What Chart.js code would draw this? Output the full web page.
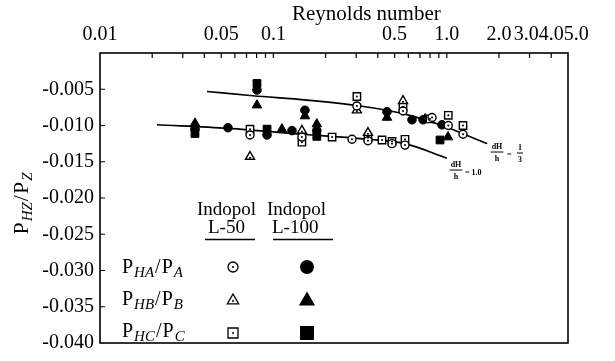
<!DOCTYPE html>
<html>
<head>
<meta charset="utf-8">
<script src="https://cdn.jsdelivr.net/npm/chart.js@4.4.1/dist/chart.umd.min.js"></script>
<style>
  html, body { margin: 0; padding: 0; background: #fff; }
</style>
</head>
<body>
<canvas id="chart" width="615" height="361"></canvas>
<script>
// === DATEN ===
// Reynolds-Zahl (log) gegen P_HZ/P_Z

// Achsen-Ticks
const xTickValues = [0.01, 0.02, 0.03, 0.04, 0.05, 0.06, 0.07, 0.08, 0.09,
                     0.1, 0.2, 0.3, 0.4, 0.5, 0.6, 0.7, 0.8, 0.9, 1, 2, 3, 4, 5];
const xLabelValues = [0.01, 0.05, 0.1, 0.5, 1, 2, 4];
const xLabelTexts = ['0.01', '0.05', '0.1', '0.5', '1.0', '2.0', '3.04.05.0'];

// Kurven (dH/h = 1/3 oben, dH/h = 1.0 unten)
const upperCurveX = [0.0414, 0.0762, 0.156, 0.316, 0.452, 0.589, 0.914, 1.71];
const upperCurveY = [-0.0053, -0.0059, -0.0065, -0.0073, -0.0079, -0.0085, -0.0099, -0.0125];
const lowerCurveX = [0.0213, 0.0547, 0.146, 0.351, 0.574, 1.0];
const lowerCurveY = [-0.0099, -0.0104, -0.0112, -0.0119, -0.0125, -0.0145];

// Messpunkte Indopol L-50 (offen)
const phaL50 = [[0.303, -0.0073], [0.559, -0.0080], [0.822, -0.0089], [1.02, -0.0100], [1.24, -0.0112],
                [0.0733, -0.0113], [0.146, -0.0116], [0.284, -0.0119], [0.351, -0.0121], [0.483, -0.0125], [0.574, -0.0127]];
const phbL50 = [[0.303, -0.0079], [0.559, -0.0066],
                [0.0733, -0.0143], [0.146, -0.0107], [0.351, -0.0110]];
const phcL50 = [[0.303, -0.0060], [0.559, -0.0074], [0.80, -0.0091], [1.02, -0.0086], [1.24, -0.0100],
                [0.0733, -0.0105], [0.146, -0.0123], [0.218, -0.0116], [0.351, -0.0117], [0.423, -0.0120], [0.483, -0.0122], [0.574, -0.0119]];

// Messpunkte Indopol L-100 (gefüllt)
const phaL100 = [[0.0804, -0.0051], [0.152, -0.0079], [0.452, -0.0081], [0.63, -0.0092], [0.73, -0.0092], [0.938, -0.0099],
                 [0.0353, -0.0105], [0.0547, -0.0103], [0.0919, -0.0113], [0.128, -0.0107], [0.178, -0.0107]];
const phbL100 = [[0.0804, -0.0072], [0.152, -0.0087], [0.452, -0.0089], [0.75, -0.0091], [1.016, -0.0116],
                 [0.0353, -0.0097], [0.112, -0.0105], [0.178, -0.0098]];
const phcL100 = [[0.0804, -0.0042], [0.914, -0.0120],
                 [0.0353, -0.0111], [0.0919, -0.0105], [0.178, -0.0115]];

// === HILFSFUNKTIONEN ===
const SERIF = "'Liberation Serif', 'Times New Roman', serif";
const toXY = (pairs) => pairs.map(([x, y]) => ({ x, y }));
const zipXY = (xs, ys) => xs.map((x, i) => ({ x, y: ys[i] }));

function markerSet(label, pairs, style, filled, radius) {
    return {
        label,
        data: toXY(pairs),
        pointStyle: style,
        pointRadius: radius,
        pointBorderWidth: filled ? 1 : 1.4,
        pointBackgroundColor: filled ? '#000' : '#fff',
        pointBorderColor: '#000',
        showLine: false,
        centerDot: !filled,
        order: 0
    };
}

function curveSet(label, xs, ys) {
    return {
        label,
        data: zipXY(xs, ys),
        showLine: true,
        borderColor: '#000',
        borderWidth: 1.6,
        pointRadius: 0,
        cubicInterpolationMode: 'monotone',
        fill: false,
        order: 10
    };
}

// Text mit Index (kursiv, tiefgestellt) zeichnen
function drawRich(ctx, x, y, parts, align) {
    const fontOf = (p) => `${p[2] ? 'italic ' : ''}${p[1]}px ${SERIF}`;
    let w = 0;
    parts.forEach(p => { ctx.font = fontOf(p); w += ctx.measureText(p[0]).width + 1; });
    let cx = align === 'center' ? x - w / 2 : x;
    parts.forEach(p => {
        ctx.font = fontOf(p);
        ctx.fillText(p[0], cx, y + (p[3] || 0));
        cx += ctx.measureText(p[0]).width + 1;
    });
}

function drawMarker(ctx, style, filled, x, y, r) {
    ctx.save();
    ctx.beginPath();
    if (style === 'circle') {
        ctx.arc(x, y, r, 0, Math.PI * 2);
    } else if (style === 'triangle') {
        ctx.moveTo(x, y - r);
        ctx.lineTo(x + r * 0.95, y + r * 0.65);
        ctx.lineTo(x - r * 0.95, y + r * 0.65);
        ctx.closePath();
    } else {
        ctx.rect(x - r, y - r, 2 * r, 2 * r);
    }
    ctx.fillStyle = filled ? '#000' : '#fff';
    ctx.fill();
    ctx.lineWidth = 1.3;
    ctx.strokeStyle = '#000';
    ctx.stroke();
    if (!filled) {
        ctx.beginPath();
        ctx.arc(x, y + (style === 'triangle' ? 1 : 0), 1, 0, Math.PI * 2);
        ctx.fillStyle = '#000';
        ctx.fill();
    }
    ctx.restore();
}

function drawFraction(ctx, cx, y, num, den, size) {
    ctx.font = `bold ${size}px ${SERIF}`;
    ctx.textAlign = 'center';
    ctx.fillText(num, cx, y - 3);
    ctx.fillText(den, cx, y + size + 1);
    const w = Math.max(ctx.measureText(num).width, ctx.measureText(den).width) / 2 + 1;
    ctx.beginPath();
    ctx.moveTo(cx - w, y);
    ctx.lineTo(cx + w, y);
    ctx.lineWidth = 1;
    ctx.stroke();
    ctx.textAlign = 'left';
}

// === PLUGINS ===
const frameAndTicks = {
    id: 'frameAndTicks',
    afterDatasetsDraw(chart) {
        const { ctx, chartArea: a, scales: { x, y } } = chart;
        ctx.save();
        ctx.strokeStyle = '#000';
        ctx.lineWidth = 1.6;
        ctx.strokeRect(a.left, a.top, a.right - a.left, a.bottom - a.top);
        ctx.lineWidth = 1.2;
        ctx.beginPath();
        x.ticks.forEach(t => {
            const px = x.getPixelForValue(t.value);
            if (px > a.left + 1 && px < a.right - 1) {
                ctx.moveTo(px, a.top);
                ctx.lineTo(px, a.top + 5);
            }
        });
        y.ticks.forEach(t => {
            const py = y.getPixelForValue(t.value);
            if (py > a.top + 1 && py < a.bottom - 1) {
                ctx.moveTo(a.left, py);
                ctx.lineTo(a.left + 5, py);
            }
        });
        ctx.stroke();

        // Mittelpunkt der offenen Symbole
        chart.data.datasets.forEach((ds, i) => {
            if (!ds.centerDot) return;
            chart.getDatasetMeta(i).data.forEach(el => {
                ctx.beginPath();
                ctx.arc(el.x, el.y + (ds.pointStyle === 'triangle' ? 1 : 0), 1, 0, Math.PI * 2);
                ctx.fillStyle = '#000';
                ctx.fill();
            });
        });
        ctx.restore();
    }
};

const labelsAndLegend = {
    id: 'labelsAndLegend',
    afterDraw(chart) {
        const ctx = chart.ctx;
        ctx.save();
        ctx.fillStyle = '#000';
        ctx.strokeStyle = '#000';
        ctx.textBaseline = 'alphabetic';

        // Achsentitel
        ctx.font = `21px ${SERIF}`;
        ctx.fillText('Reynolds number', 292, 20);

        ctx.save();
        ctx.translate(28, 203);
        ctx.rotate(-Math.PI / 2);
        drawRich(ctx, 0, 0, [['P', 22], ['HZ', 15, true, 4], ['/', 22], ['P', 22], ['Z', 15, true, 4]], 'center');
        ctx.restore();

        // Legende
        ctx.font = `19px ${SERIF}`;
        ctx.fillText('Indopol', 197, 215);
        ctx.fillText('Indopol', 267, 215);
        ctx.fillText('L-50', 208, 233);
        ctx.fillText('L-100', 272, 233);
        ctx.lineWidth = 1.3;
        ctx.beginPath();
        ctx.moveTo(205, 239.5); ctx.lineTo(255, 239.5);
        ctx.moveTo(273, 239.5); ctx.lineTo(333, 239.5);
        ctx.stroke();

        const rows = [['HA', 'A', 'circle', 273, 267], ['HB', 'B', 'triangle', 305, 300], ['HC', 'C', 'rect', 337, 333]];
        rows.forEach(([sub1, sub2, style, base, my]) => {
            drawRich(ctx, 122, base, [['P', 20], [sub1, 15, true, 4], ['/', 20], ['P', 20], [sub2, 15, true, 4]]);
            const r = style === 'circle' ? 5 : style === 'triangle' ? 6 : 5;
            drawMarker(ctx, style, false, 233, my, r);
            drawMarker(ctx, style, true, 307, my, r + 1.3);
        });

        // Kurvenbeschriftungen
        drawFraction(ctx, 497, 152, 'dH', 'h', 8);
        ctx.font = `bold 8px ${SERIF}`;
        ctx.fillText('=', 507, 157);
        drawFraction(ctx, 520, 153, '1', '3', 8);

        drawFraction(ctx, 456, 170, 'dH', 'h', 8);
        ctx.font = `bold 8px ${SERIF}`;
        ctx.fillText('= 1.0', 465, 175);

        ctx.restore();
    }
};

// === CHART ===
Chart.defaults.font.family = SERIF;
Chart.defaults.color = '#000';

new Chart(document.getElementById('chart'), {
    type: 'scatter',
    data: {
        datasets: [
            curveSet('dH/h = 1/3', upperCurveX, upperCurveY),
            curveSet('dH/h = 1.0', lowerCurveX, lowerCurveY),
            markerSet('PHA/PA L-50', phaL50, 'circle', false, 4),
            markerSet('PHB/PB L-50', phbL50, 'triangle', false, 5.2),
            markerSet('PHC/PC L-50', phcL50, 'rect', false, 5.2),
            markerSet('PHA/PA L-100', phaL100, 'circle', true, 4.3),
            markerSet('PHB/PB L-100', phbL100, 'triangle', true, 5.5),
            markerSet('PHC/PC L-100', phcL100, 'rect', true, 5.5)
        ]
    },
    options: {
        responsive: false,
        animation: false,
        events: [],
        layout: { padding: { top: 0, right: 47, bottom: 8, left: 0 } },
        plugins: {
            legend: { display: false },
            tooltip: { enabled: false }
        },
        scales: {
            x: {
                type: 'logarithmic',
                position: 'top',
                min: 0.01,
                max: 5,
                afterBuildTicks: (s) => { s.ticks = xTickValues.map(v => ({ value: v })); },
                afterFit: (s) => { s.height = 53; },
                grid: { display: false, drawTicks: false },
                border: { display: false },
                ticks: {
                    autoSkip: false,
                    maxRotation: 0,
                    padding: 6,
                    font: { size: 20 },
                    callback: (value) => {
                        const i = xLabelValues.indexOf(value);
                        return i >= 0 ? xLabelTexts[i] : '';
                    }
                }
            },
            y: {
                min: -0.04,
                max: 0,
                afterFit: (s) => { s.width = 100; },
                grid: { display: false, drawTicks: false },
                border: { display: false },
                ticks: {
                    stepSize: 0.005,
                    padding: 6,
                    font: { size: 20 },
                    callback: (value) => Math.abs(value) < 1e-9 ? '' : value.toFixed(3)
                }
            }
        }
    },
    plugins: [frameAndTicks, labelsAndLegend]
});
</script>
</body>
</html>
